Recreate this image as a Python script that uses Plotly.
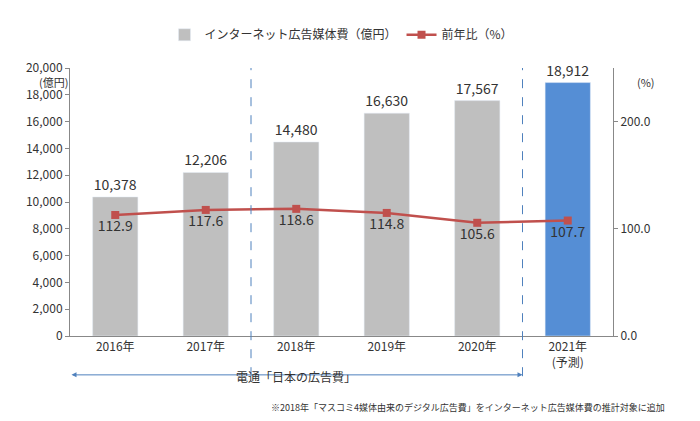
import plotly.graph_objects as go

cats = ["2016年", "2017年", "2018年", "2019年", "2020年", "2021年<br>(予測)"]
spend = [10378, 12206, 14480, 16630, 17567, 18912]
yoy = [112.9, 117.6, 118.6, 114.8, 105.6, 107.7]
bar_colors = ["#BFBFBF"] * 5 + ["#558ED5"]
F = "Noto Sans CJK JP"

fig = go.Figure()
fig.add_trace(go.Bar(x=cats, y=spend, name="インターネット広告媒体費（億円）",
                     marker_color=bar_colors, text=[f"{v:,}" for v in spend],
                     textposition="outside", textfont=dict(size=14, color="#333"),
                     cliponaxis=False, width=0.5))
fig.add_trace(go.Scatter(x=cats, y=yoy, name="前年比（%）", yaxis="y2",
                         mode="lines+markers+text", line=dict(color="#C0504D", width=2.5),
                         marker=dict(symbol="square", size=8, color="#C0504D"),
                         text=[f"{v:.1f}" for v in yoy], textposition="bottom center",
                         textfont=dict(size=14, color="#333")))
fig.update_layout(
    width=700, height=421, margin=dict(l=62, r=95, t=40, b=93),
    plot_bgcolor="white", paper_bgcolor="white", font=dict(family=F, size=12, color="#333"),
    bargap=0.5, showlegend=True,
    legend=dict(orientation="h", x=0.5, xanchor="center", y=1.07, yanchor="bottom",
                font=dict(size=12), bgcolor="rgba(0,0,0,0)"),
    xaxis=dict(showline=True, linecolor="#888", ticks="", range=[-0.5, 5.5]),
    yaxis=dict(range=[0, 20000], dtick=2000, tickformat=",", showgrid=False,
               showline=True, linecolor="#888", ticks="outside", ticklen=4, tickcolor="#888"),
    yaxis2=dict(overlaying="y", side="right", range=[0, 250], tickvals=[0, 100, 200],
                ticktext=["0.0", "100.0", "200.0"], showgrid=False, showline=True,
                linecolor="#888", ticks="outside", ticklen=4, tickcolor="#888"),
)
for xv in [1.5, 4.5]:
    fig.add_shape(type="line", xref="x", yref="paper", x0=xv, x1=xv, y0=-0.15, y1=1.0,
                  line=dict(color="#4F81BD", width=1, dash="dash"))
fig.add_annotation(xref="x", yref="paper", x=4.5, y=-0.145, ax=-0.5, ay=0,
                   axref="x", ayref="pixel", showarrow=True, arrowhead=2, startarrowhead=2,
                   arrowside="end+start", arrowcolor="#4F81BD", arrowwidth=1, text="")
fig.add_annotation(xref="x", yref="paper", x=2.0, y=-0.19, text="電通「日本の広告費」",
                   showarrow=False, font=dict(size=12))
fig.add_annotation(xref="paper", yref="paper", x=1.1, y=-0.3, xanchor="right",
                   text="※2018年「マスコミ4媒体由来のデジタル広告費」をインターネット広告媒体費の推計対象に追加",
                   showarrow=False, font=dict(size=9))
fig.add_annotation(xref="paper", yref="paper", x=0, y=0.985, xanchor="right",
                   text="(億円)", showarrow=False, font=dict(size=11))
fig.add_annotation(xref="paper", yref="paper", x=1.04, y=0.985, xanchor="left",
                   text="(%)", showarrow=False, font=dict(size=11))
fig.write_html("out.html")
